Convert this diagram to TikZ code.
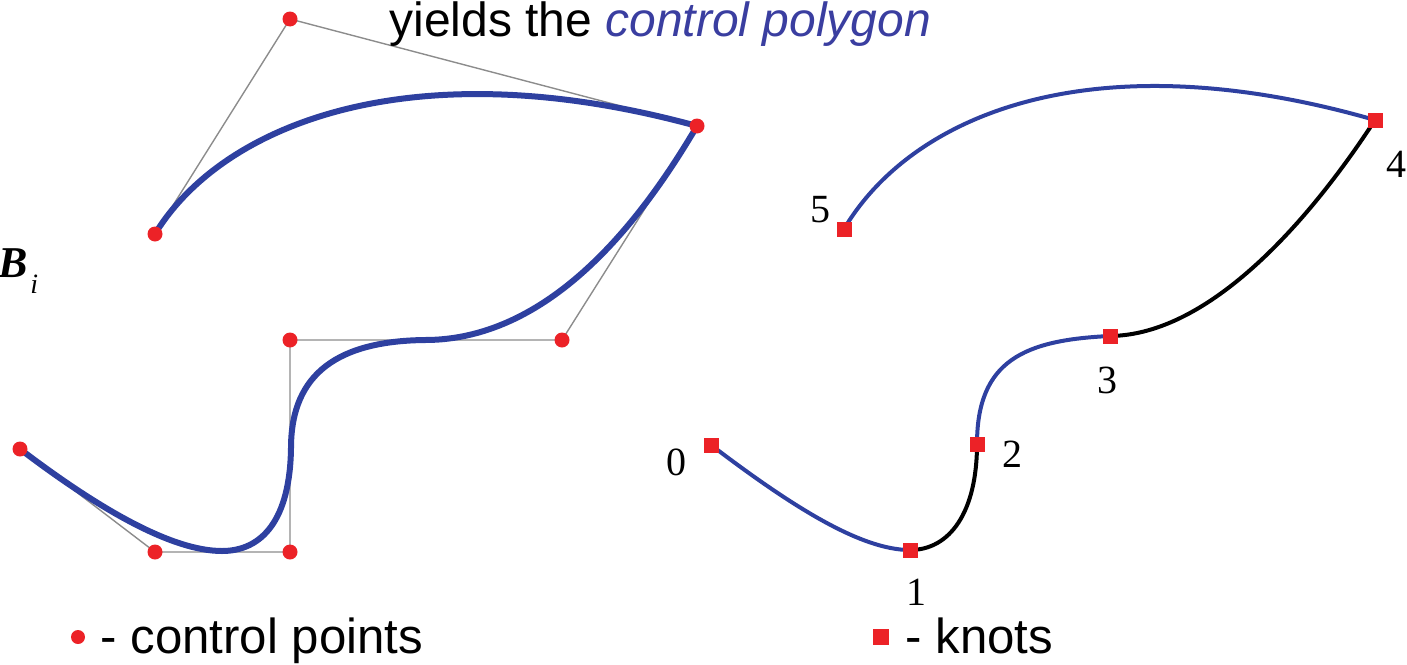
\documentclass[tikz,border=0pt]{standalone}
\usepackage{fontspec}
\setmainfont{Liberation Sans}
\newfontfamily\serifnum{Liberation Serif}
\definecolor{curveblue}{RGB}{46,64,160}
\definecolor{textblue}{RGB}{58,62,160}
\definecolor{ptred}{RGB}{236,34,39}
\definecolor{polygray}{RGB}{140,140,140}
\begin{document}
\begin{tikzpicture}[x=0.5pt,y=-0.5pt,
  ctrl/.style={circle,fill=ptred,inner sep=0pt,minimum size=7.5pt},
  knotbox/.style={rectangle,fill=ptred,inner sep=0pt,minimum size=7.5pt},
  poly/.style={draw=polygray,line width=0.7pt},
  bigcurve/.style={draw=curveblue,line width=3pt,line cap=round},
  bluecurve/.style={draw=curveblue,line width=2pt},
  blackcurve/.style={draw=black,line width=2pt},
  numlbl/.style={font=\serifnum\fontsize{20}{20}\selectfont,anchor=base,inner sep=0pt},
  bigtext/.style={font=\fontsize{24}{24}\selectfont,anchor=base west,inner sep=0pt},
  legtext/.style={font=\fontsize{24.6}{24.6}\selectfont,anchor=base west,inner sep=0pt}]
\useasboundingbox (0,0) rectangle (1407,664);

% ---------- left: control polygon and curve ----------
\coordinate (c0) at (20,449);
\coordinate (c1) at (155,552);
\coordinate (c2) at (290,552);
\coordinate (c3) at (290,340);
\coordinate (c4) at (562,340);
\coordinate (c5) at (697,126);
\coordinate (c6) at (290,19);
\coordinate (c7) at (155,234);
\coordinate (kl1) at (222,551);
\coordinate (kl2) at (291,448);
\coordinate (kl3) at (425,340);

\draw[poly] (c0) -- (c1) -- (c2) -- (c3) -- (c4) -- (c5) -- (c6) -- (c7);

\draw[bigcurve] (c0) .. controls (95,506) and (170,551) .. (kl1)
  .. controls (262,551) and (290,520) .. (kl2)
  .. controls (291,372) and (340,341) .. (kl3)
  .. controls (555,340) and (647,211) .. (c5)
  .. controls (412,48) and (222,124) .. (c7);

\foreach \i in {0,...,7} { \node[ctrl] (p\i) at (c\i) {}; }

% ---------- right: knots ----------
\coordinate (kr0) at (711,445);
\coordinate (kr1) at (910,550);
\coordinate (kr2) at (977,444);
\coordinate (kr3) at (1110,336);
\coordinate (kr4) at (1375,120);
\coordinate (kr5) at (844,229);

\draw[bluecurve] (kr0) .. controls (790,505) and (860,550) .. (kr1);
\draw[blackcurve] (kr1) .. controls (950,550) and (977,512) .. (kr2);
\draw[bluecurve] (kr2) .. controls (977,360) and (1025,340) .. (kr3);
\draw[blackcurve] (kr3) .. controls (1210,335) and (1310,220) .. (kr4);
\draw[bluecurve] (kr4) .. controls (1090,38) and (911,116) .. (kr5);

\foreach \i in {0,...,5} { \node[knotbox] (q\i) at (kr\i) {}; }

\node[numlbl] (n0) at (676,475) {0};
\node[numlbl] (n1) at (916,605) {1};
\node[numlbl] (n2) at (1012,467) {2};
\node[numlbl] (n3) at (1107,393) {3};
\node[numlbl] (n4) at (1396,177) {4};
\node[numlbl] (n5) at (820,222) {5};

% ---------- texts ----------
\node[bigtext] (title) at (389,36) {yields the \textcolor{textblue}{\itshape control polygon}};
\node[anchor=base west,inner sep=0pt,font=\serifnum\fontsize{22}{22}\selectfont] (bsym) at (-2,277) {\textbf{\textit{B}}};
\node[anchor=base west,inner sep=0pt,font=\serifnum\fontsize{14}{14}\selectfont] (isub) at (30,293) {\textit{i}};

\node[ctrl,minimum size=7pt] (legdot) at (78,637) {};
\node[legtext] (legc) at (100,653) {- control points};
\node[knotbox,minimum size=8pt] (legsq) at (881,637) {};
\node[legtext] (legk) at (905,653) {- knots};
\end{tikzpicture}
\end{document}
